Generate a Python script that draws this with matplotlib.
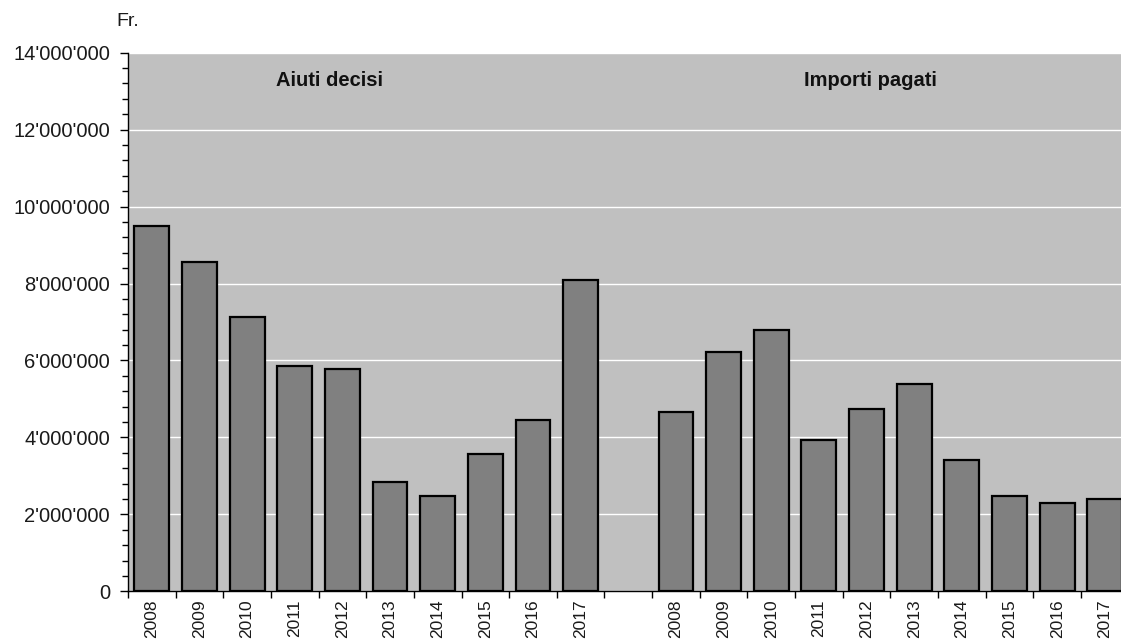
import matplotlib
matplotlib.use("Agg")
import matplotlib.pyplot as plt
from matplotlib.ticker import FuncFormatter, MultipleLocator, FixedLocator
import numpy as np

years = ["2008", "2009", "2010", "2011", "2012", "2013", "2014", "2015", "2016", "2017"]
aiuti_decisi = [9.49e6, 8.57e6, 7.14e6, 5.85e6, 5.77e6, 2.84e6, 2.48e6, 3.57e6, 4.44e6, 8.08e6]
importi_pagati = [4.66e6, 6.22e6, 6.79e6, 3.93e6, 4.73e6, 5.38e6, 3.42e6, 2.49e6, 2.29e6, 2.40e6]
group_titles = ["Aiuti decisi", "Importi pagati"]
y_unit = "Fr."

plt.rcParams['font.family'] = ['Liberation Sans', 'DejaVu Sans']

W, H = 1121, 639
fig = plt.figure(figsize=(W / 100, H / 100), dpi=100)
left, right, top, bottom = 128, 1128.6, 52.7, 591.3
ax = fig.add_axes([left / W, 1 - bottom / H, (right - left) / W, (bottom - top) / H])
ax.set_facecolor('#C0C0C0')

n = len(years)
pos1 = np.arange(n)
pos2 = np.arange(n) + n + 1
ax.bar(pos1, aiuti_decisi, width=0.73, color='#808080', edgecolor='black', linewidth=1.6, zorder=3)
ax.bar(pos2, importi_pagati, width=0.73, color='#808080', edgecolor='black', linewidth=1.6, zorder=3)

ax.set_xlim(-0.5, 2 * n + 0.5)
ax.set_ylim(0, 14e6)

ax.yaxis.set_major_locator(MultipleLocator(2e6))
ax.yaxis.set_minor_locator(MultipleLocator(4e5))
ax.yaxis.set_major_formatter(FuncFormatter(lambda v, p: f"{int(round(v)):,}".replace(",", "'")))
ax.grid(axis='y', which='major', color='white', linewidth=1.0, zorder=1)

ax.xaxis.set_major_locator(FixedLocator(np.arange(-0.5, 2 * n + 1, 1.0)))
ax.xaxis.set_major_formatter(FuncFormatter(lambda v, p: ""))
ax.xaxis.set_minor_locator(FixedLocator(list(pos1) + list(pos2)))
ax.set_xticklabels(years + years, minor=True, rotation=90)

ax.tick_params(axis='y', which='major', length=6, width=1, labelsize=14.5, pad=7, colors='black', labelcolor='#1a1a1a')
ax.tick_params(axis='y', which='minor', length=4, width=1, colors='black')
ax.tick_params(axis='x', which='major', length=5, width=1, colors='black')
ax.tick_params(axis='x', which='minor', length=0, labelsize=12.5, pad=6, labelcolor='#1a1a1a')

for s in ['top', 'right']:
    ax.spines[s].set_visible(False)
for s in ['left', 'bottom']:
    ax.spines[s].set_color('black')
    ax.spines[s].set_linewidth(1.0)
    ax.spines[s].set_zorder(4)

ax.text(3.73, 13.29e6, group_titles[0], ha='center', va='center', fontsize=14.5, fontweight='bold', color='#111111')
ax.text(15.09, 13.29e6, group_titles[1], ha='center', va='center', fontsize=14.5, fontweight='bold', color='#111111')

fig.text(116 / W, 1 - 22 / H, y_unit, ha='left', va='center', fontsize=14, color='#1a1a1a')

fig.savefig("out.png", dpi=100)
